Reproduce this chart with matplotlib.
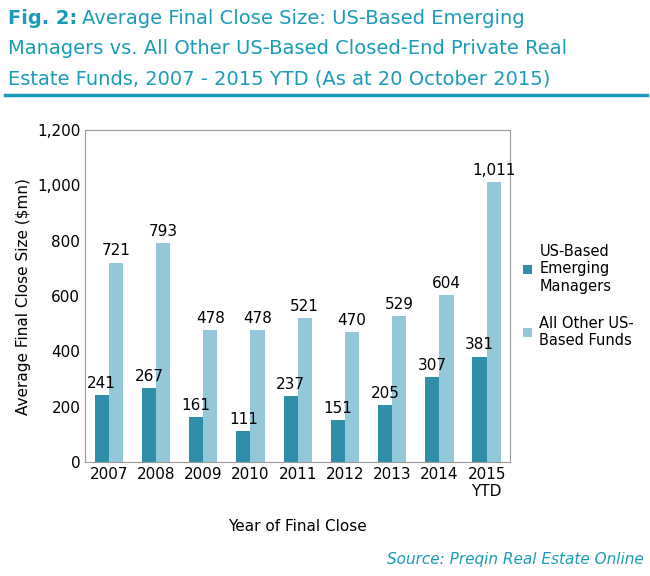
import matplotlib.pyplot as plt
import numpy as np

years = ['2007', '2008', '2009', '2010', '2011', '2012', '2013', '2014', '2015\nYTD']
emerging = [241, 267, 161, 111, 237, 151, 205, 307, 381]
others = [721, 793, 478, 478, 521, 470, 529, 604, 1011]

dark = '#2F8FA8'
light = '#93C7DA'
teal = '#1A9CB8'

fig = plt.figure(figsize=(6.5, 5.76), dpi=100)
ft = 14
t0 = fig.text(0.012, 0.985, 'Fig. 2:', color=teal, fontsize=ft, fontweight='bold', va='top')
fig.canvas.draw()
bb = t0.get_window_extent().transformed(fig.transFigure.inverted())
fig.text(bb.x1 + 0.008, 0.985, 'Average Final Close Size: US-Based Emerging', color=teal, fontsize=ft, va='top')
fig.text(0.012, 0.932, 'Managers vs. All Other US-Based Closed-End Private Real', color=teal, fontsize=ft, va='top')
fig.text(0.012, 0.879, 'Estate Funds, 2007 - 2015 YTD (As at 20 October 2015)', color=teal, fontsize=ft, va='top')
fig.add_artist(plt.Line2D([0.008, 0.995], [0.835, 0.835], color=teal, lw=2.5))

ax = fig.add_axes([0.131, 0.198, 0.654, 0.576])
x = np.arange(len(years))
w = 0.3
b1 = ax.bar(x - w/2, emerging, w, color=dark, label='US-Based\nEmerging\nManagers')
b2 = ax.bar(x + w/2, others, w, color=light, label='All Other US-\nBased Funds')
for bars, vals in ((b1, emerging), (b2, others)):
    for r, v in zip(bars, vals):
        ax.text(r.get_x() + r.get_width()/2, v + 15, f'{v:,}', ha='center', va='bottom', fontsize=11)

ax.set_ylim(0, 1200)
ax.set_yticks(range(0, 1201, 200))
ax.set_yticklabels([f'{t:,}' for t in range(0, 1201, 200)], fontsize=11)
ax.set_xlim(-0.5, len(years) - 0.5)
ax.set_xticks(x)
ax.set_xticklabels(years, fontsize=11)
ax.tick_params(length=0)
for s in ax.spines.values():
    s.set_color('#999999')
ax.set_ylabel('Average Final Close Size ($mn)', fontsize=11)
ax.set_xlabel('Year of Final Close', fontsize=11, labelpad=14)
ax.legend(loc='center left', bbox_to_anchor=(1.0, 0.5), frameon=False, fontsize=10.5,
          handlelength=0.6, handleheight=0.6, handletextpad=0.5, labelspacing=1.5)

fig.text(0.99, 0.015, 'Source: Preqin Real Estate Online', color=teal, fontsize=11,
         style='italic', ha='right', va='bottom')
fig.savefig('out.png', dpi=100)
